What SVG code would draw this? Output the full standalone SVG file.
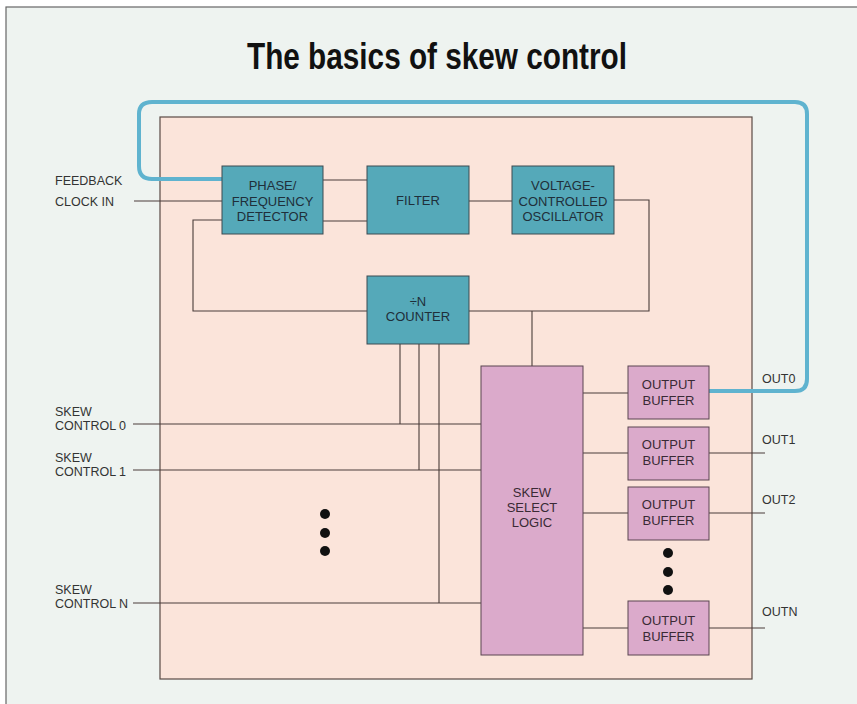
<svg xmlns="http://www.w3.org/2000/svg" width="857" height="704" viewBox="0 0 857 704">
<style>
.lbl{font-family:"Liberation Sans",Arial,sans-serif;font-size:12.5px;fill:#333}
.bt{font-family:"Liberation Sans",Arial,sans-serif;font-size:13px;fill:#1f2f3a;text-anchor:middle}
.pt{font-family:"Liberation Sans",Arial,sans-serif;font-size:13px;fill:#3a2a35;text-anchor:middle}
.blue{fill:#55a9b9;stroke:#3d4a50;stroke-width:1}
.mag{fill:#dbaacb;stroke:#5a4450;stroke-width:1}
.w{fill:none;stroke:#4a3d3a;stroke-width:1.1}
.dot{fill:#111}
</style>
<rect x="0" y="0" width="857" height="704" fill="#ffffff"/>
<rect x="6" y="7" width="870" height="720" fill="#eef3f0" stroke="#666" stroke-width="1.2"/>
<text x="437" y="69" text-anchor="middle" font-family="Liberation Sans,Arial,sans-serif" font-weight="bold" font-size="36" textLength="380" lengthAdjust="spacingAndGlyphs" fill="#111">The basics of skew control</text>
<g id="chip"><rect x="160" y="117" width="592" height="562" fill="#fbe4da" stroke="#5a4a45" stroke-width="1.2"/></g>
<g id="connectors">
<path class="w" d="M134 201H222"/>
<path class="w" d="M323 180H367M323 221H367"/>
<path class="w" d="M469 201H512"/>
<path class="w" d="M614 200H649V311H469"/>
<path class="w" d="M222 220H193V311H367"/>
<path class="w" d="M532 311V366"/>
<path class="w" d="M400 344V424M419 344V470M439 344V603"/>
<path class="w" d="M133 424H481M133 470H481M133 603H481"/>
<path class="w" d="M583 393H628M583 453H628M583 513H628M583 628H628"/>
<path class="w" d="M709 453H765M709 513H765M709 628H765"/>
<path d="M222 179H152Q139 179 139 166V114Q139 102 152 102H795Q807 102 807 114V379Q807 391 795 391H709" fill="none" stroke="#5fb3cf" stroke-width="4" stroke-linejoin="round"/>
</g>
<g id="pfd"><rect class="blue" x="222" y="166" width="101" height="68"/>
<text class="bt" x="272.5" y="190">PHASE/</text><text class="bt" x="272.5" y="206">FREQUENCY</text><text class="bt" x="272.5" y="221">DETECTOR</text></g>
<g id="filter"><rect class="blue" x="367" y="166" width="102" height="68"/>
<text class="bt" x="418" y="205">FILTER</text></g>
<g id="vco"><rect class="blue" x="512" y="166" width="102" height="68"/>
<text class="bt" x="563" y="190">VOLTAGE-</text><text class="bt" x="563" y="206">CONTROLLED</text><text class="bt" x="563" y="221">OSCILLATOR</text></g>
<g id="counter"><rect class="blue" x="367" y="276" width="102" height="68"/>
<text class="bt" x="418" y="306">÷N</text><text class="bt" x="418" y="321">COUNTER</text></g>
<g id="ssl"><rect class="mag" x="481" y="366" width="102" height="289"/>
<text class="pt" x="532" y="497">SKEW</text><text class="pt" x="532" y="512">SELECT</text><text class="pt" x="532" y="527">LOGIC</text></g>
<g id="ob0"><rect class="mag" x="628" y="366" width="81" height="53"/>
<text class="pt" x="668.5" y="389">OUTPUT</text><text class="pt" x="668.5" y="405">BUFFER</text></g>
<g id="ob1"><rect class="mag" x="628" y="427" width="81" height="53"/>
<text class="pt" x="668.5" y="449">OUTPUT</text><text class="pt" x="668.5" y="465">BUFFER</text></g>
<g id="ob2"><rect class="mag" x="628" y="487" width="81" height="53"/>
<text class="pt" x="668.5" y="509">OUTPUT</text><text class="pt" x="668.5" y="525">BUFFER</text></g>
<g id="obn"><rect class="mag" x="628" y="601" width="81" height="54"/>
<text class="pt" x="668.5" y="625">OUTPUT</text><text class="pt" x="668.5" y="641">BUFFER</text></g>
<g id="labels">
<text class="lbl" x="55" y="185">FEEDBACK</text>
<text class="lbl" x="55" y="206">CLOCK IN</text>
<text class="lbl" x="55" y="416">SKEW</text><text class="lbl" x="55" y="430">CONTROL 0</text>
<text class="lbl" x="55" y="462">SKEW</text><text class="lbl" x="55" y="476">CONTROL 1</text>
<text class="lbl" x="55" y="594">SKEW</text><text class="lbl" x="55" y="608">CONTROL N</text>
<text class="lbl" x="762" y="383">OUT0</text>
<text class="lbl" x="762" y="444">OUT1</text>
<text class="lbl" x="762" y="504">OUT2</text>
<text class="lbl" x="762" y="616">OUTN</text>
</g>
<g id="dots">
<circle class="dot" cx="325" cy="514" r="5"/><circle class="dot" cx="325" cy="533" r="5"/><circle class="dot" cx="325" cy="551" r="5"/>
<circle class="dot" cx="668" cy="553" r="5"/><circle class="dot" cx="668" cy="572" r="5"/><circle class="dot" cx="668" cy="590" r="5"/>
</g>
</svg>
